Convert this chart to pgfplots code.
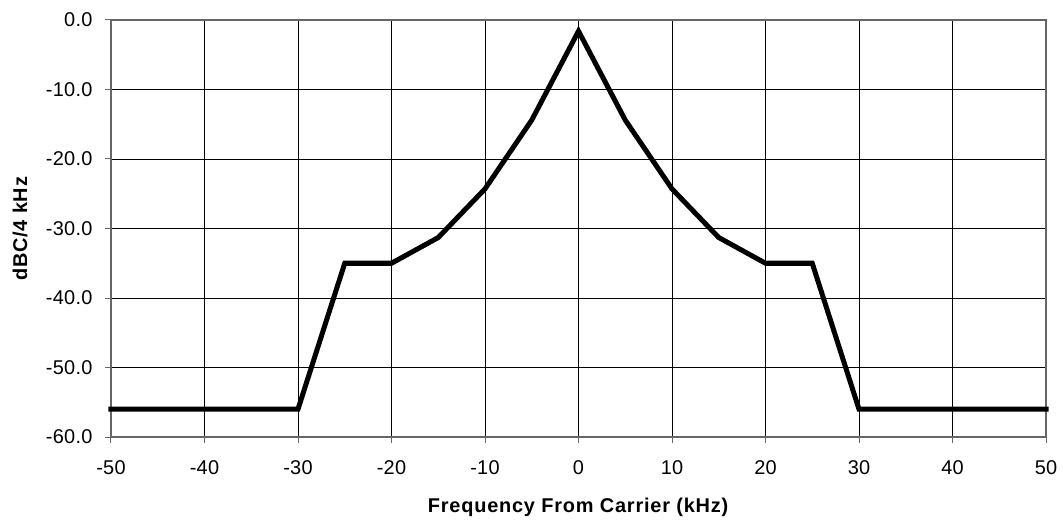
\documentclass[border=0pt]{standalone}
\usepackage{pgfplots}
\pgfplotsset{compat=1.18}
\usepackage{fontspec}
\setmainfont{Liberation Sans}
\begin{document}
\begin{tikzpicture}
\begin{axis}[
  scale only axis,
  width=935bp, height=417bp,
  xmin=-50, xmax=50, ymin=-60, ymax=0,
  xtick={-50,-40,...,50},
  xticklabels={-50,-40,-30,-20,-10,0,10,20,30,40,50},
  ytick={-60,-50,...,0},
  yticklabels={-60.0,-50.0,-40.0,-30.0,-20.0,-10.0,0.0},
  xtick pos=bottom, ytick pos=left,
  grid=major,
  major grid style={black, line width=0.8bp},
  axis line style={black!60, line width=1.5bp},
  tick style={black!60, line width=1bp},
  tick align=outside,
  major tick length=6bp,
  ticklabel style={font=\fontsize{20}{23}\selectfont\addfontfeature{LetterSpace=1.5}},
  xticklabel style={yshift=-14bp},
  yticklabel style={xshift=-9bp},
  xlabel={\textbf{Frequency From Carrier (kHz)}},
  ylabel={\textbf{dBC/4 kHz}},
  label style={font=\fontsize{20}{23}\selectfont\addfontfeature{LetterSpace=4}},
  xlabel style={at={(axis description cs:0.5,0)}, anchor=center, yshift=-70bp},
  ylabel style={at={(axis description cs:-0.0973,0.5)}, anchor=center},
  clip=false,
]
\addplot[black, line width=5bp, line cap=rect, line join=miter] coordinates {
(-50,-56) (-30,-56) (-25,-35) (-20,-35) (-15,-31.3) (-10,-24.3) (-5,-14.4) (0,-1.6)
(5,-14.4) (10,-24.3) (15,-31.3) (20,-35) (25,-35) (30,-56) (50,-56)};
\end{axis}
\path (current axis.south west) ++(-111bp,-88bp);
\path (current axis.north east) ++(17bp,20bp);
\end{tikzpicture}
\end{document}
